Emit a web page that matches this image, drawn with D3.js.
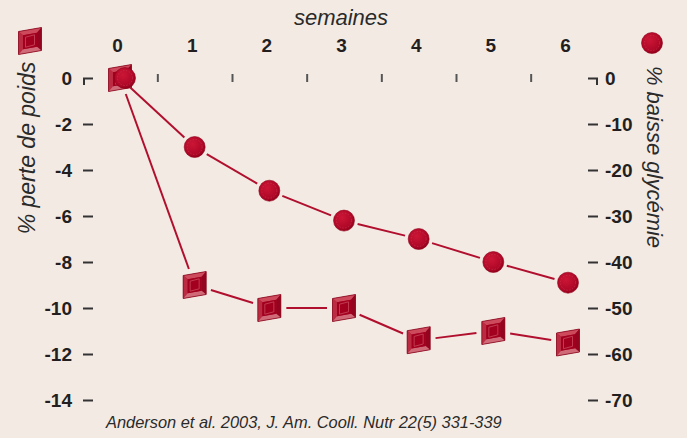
<!DOCTYPE html>
<html><head><meta charset="utf-8">
<script src="https://cdn.jsdelivr.net/npm/d3@7"></script>
<style>
html,body{margin:0;padding:0;background:#f4eae4;}
svg{display:block;}
</style></head>
<body>
<svg id="c" width="687" height="438"></svg>
<script>
// ---- data ----
const weeks = [0, 1, 2, 3, 4, 5, 6];
const weightLoss = [0, -9, -10, -10, -11.4, -11, -11.5];        // % perte de poids (left axis)
const glycemiaDrop = [0, -15, -24.5, -31, -35, -40, -44.5];     // % baisse glycémie (right axis)
const leftTicks = [0, -2, -4, -6, -8, -10, -12, -14];
const rightTicks = [0, -10, -20, -30, -40, -50, -60, -70];
const halfTicks = [0.5, 1.5, 2.5, 3.5, 4.5, 5.5];
const xTitle = "semaines";
const leftTitle = "% perte de poids";
const rightTitle = "% baisse glycémie";
const source = "Anderson et al. 2003, J. Am. Cooll. Nutr 22(5) 331-339";

const svg = d3.select("#c");
const W = 687, H = 438;
svg.append("rect").attr("width", W).attr("height", H).attr("fill", "#f4eae4");

const x = d3.scaleLinear().domain([0, 6]).range([120, 568]);
const yL = d3.scaleLinear().domain([0, -14]).range([78, 400]);
const yR = d3.scaleLinear().domain([0, -70]).range([78, 400]);

const txt = "#231f20";
const red = "#b0102e";

// defs
const defs = svg.append("defs");
const rg = defs.append("radialGradient").attr("id", "cg").attr("cx", "40%").attr("cy", "35%").attr("r", "70%");
rg.append("stop").attr("offset", "0%").attr("stop-color", "#cc1636");
rg.append("stop").attr("offset", "70%").attr("stop-color", "#b00828");
rg.append("stop").attr("offset", "100%").attr("stop-color", "#8e0019");

// ---- axes ----
function styleAxis(g) {
  g.select(".domain").remove();
  g.selectAll(".tick line").attr("stroke", "#333").attr("stroke-width", 2);
  g.selectAll(".tick text").attr("fill", txt)
    .style("font-family", "'Liberation Sans', Arial, sans-serif")
    .style("font-weight", "bold").style("font-size", "19px");
}
const fmt = d => String(d);

const gL = svg.append("g").attr("transform", "translate(93,0)")
  .call(d3.axisLeft(yL).tickValues(leftTicks).tickSize(10).tickPadding(11).tickFormat(fmt));
styleAxis(gL);
const gR = svg.append("g").attr("transform", "translate(588,0)")
  .call(d3.axisRight(yR).tickValues(rightTicks).tickSize(10).tickPadding(7).tickFormat(fmt));
styleAxis(gR);

// corner marks at zero
svg.append("line").attr("x1", 84).attr("x2", 84).attr("y1", yL(0)).attr("y2", yL(0) + 7)
  .attr("stroke", "#333").attr("stroke-width", 2);
svg.append("line").attr("x1", 597).attr("x2", 597).attr("y1", yR(0)).attr("y2", yR(0) + 7)
  .attr("stroke", "#333").attr("stroke-width", 2);

// top week labels
const gT = svg.append("g").attr("transform", "translate(-3,58)")
  .call(d3.axisTop(x).tickValues(weeks).tickSize(0).tickPadding(6).tickFormat(fmt));
styleAxis(gT);
// half-week ticks
const gH = svg.append("g").attr("transform", "translate(0,82)")
  .call(d3.axisTop(x).tickValues(halfTicks).tickSize(8).tickFormat(""));
styleAxis(gH);
gH.selectAll(".tick line").attr("stroke", "#555");

// titles
const ff = "'Liberation Sans', Arial, sans-serif";
svg.append("text").attr("x", 341).attr("y", 25).attr("text-anchor", "middle")
  .attr("fill", "#2a2a2a").style("font-family", ff)
  .style("font-style", "italic").style("font-size", "22px").text(xTitle);
svg.append("text").attr("transform", "translate(35,148) rotate(-90)").attr("text-anchor", "middle")
  .attr("fill", "#2a2a2a").style("font-family", ff)
  .style("font-style", "italic").style("font-size", "23px").text(leftTitle);
svg.append("text").attr("transform", "translate(647,157) rotate(90)").attr("text-anchor", "middle")
  .attr("fill", "#2a2a2a").style("font-family", ff)
  .style("font-style", "italic").style("font-size", "22px").text(rightTitle);
svg.append("text").attr("x", 106).attr("y", 428)
  .attr("fill", "#2a2a2a").style("font-family", ff)
  .style("font-style", "italic").style("font-size", "16.4px").text(source);

// ---- markers ----
function drawSquare(g, cx, cy) {
  const s = 11.5, k = 2; // half size, skew
  const o = [[cx - s, cy - s + k], [cx + s, cy - s - k], [cx + s, cy + s - k], [cx - s, cy + s + k]];
  const i = 7, ki = 1.2;
  const n = [[cx - i, cy - i + ki], [cx + i, cy - i - ki], [cx + i, cy + i - ki], [cx - i, cy + i + ki]];
  const poly = pts => "M" + pts.map(p => p.join(",")).join("L") + "Z";
  g.append("path").attr("d", poly(o)).attr("fill", "#a8102a");
  g.append("path").attr("d", poly([o[0], o[1], n[1], n[0]])).attr("fill", "#cc4a5c"); // top
  g.append("path").attr("d", poly([o[0], n[0], n[3], o[3]])).attr("fill", "#bb2c42"); // left
  g.append("path").attr("d", poly([o[1], o[2], n[2], n[1]])).attr("fill", "#94041e"); // right
  g.append("path").attr("d", poly([o[3], n[3], n[2], o[2]])).attr("fill", "#d06a78"); // bottom
  g.append("path").attr("d", poly(n)).attr("fill", "#a3001f");
  g.append("path").attr("d", poly([[cx - i + 2.5, cy - i + ki + 2], [cx + i - 2.5, cy - i - ki + 2], [cx + i - 2.5, cy + i - ki - 2], [cx - i + 2.5, cy + i + ki - 2]]))
    .attr("fill", "none").attr("stroke", "#c84a5c").attr("stroke-width", 0.8);
  g.append("path").attr("d", poly(o)).attr("fill", "none").attr("stroke", "#8a0a20").attr("stroke-width", 0.8);
}
function drawCircle(g, cx, cy) {
  g.append("circle").attr("cx", cx).attr("cy", cy).attr("r", 10.5)
    .attr("fill", "url(#cg)").attr("stroke", "#8e0019").attr("stroke-width", 0.6);
  g.append("circle").attr("cx", cx).attr("cy", cy).attr("r", 7.5)
    .attr("fill", "none").attr("stroke", "#d44a62").attr("stroke-width", 0.6)
    .attr("stroke-dasharray", "1.5,1.5").attr("opacity", 0.7);
}

// connecting lines with small gaps at markers
function drawSeries(vals, yS, gap) {
  const g = svg.append("g");
  for (let j = 0; j < vals.length - 1; j++) {
    const x1 = x(weeks[j]), y1 = yS(vals[j]), x2 = x(weeks[j + 1]), y2 = yS(vals[j + 1]);
    const dx = x2 - x1, dy = y2 - y1, len = Math.hypot(dx, dy);
    const ux = dx / len, uy = dy / len;
    g.append("line")
      .attr("x1", x1 + ux * gap).attr("y1", y1 + uy * gap)
      .attr("x2", x2 - ux * gap).attr("y2", y2 - uy * gap)
      .attr("stroke", red).attr("stroke-width", 2);
  }
  return g;
}
drawSeries(weightLoss, yL, 17);
drawSeries(glycemiaDrop, yR, 14);

const gs = svg.append("g");
weeks.forEach((w, j) => drawSquare(gs, x(w), yL(weightLoss[j])));
const gc = svg.append("g");
weeks.forEach((w, j) => drawCircle(gc, x(w) + (j === 0 ? 5 : 0), yR(glycemiaDrop[j])));

// legend icons
drawSquare(svg.append("g"), 30, 41);
drawCircle(svg.append("g"), 652, 43);
</script>
</body></html>
